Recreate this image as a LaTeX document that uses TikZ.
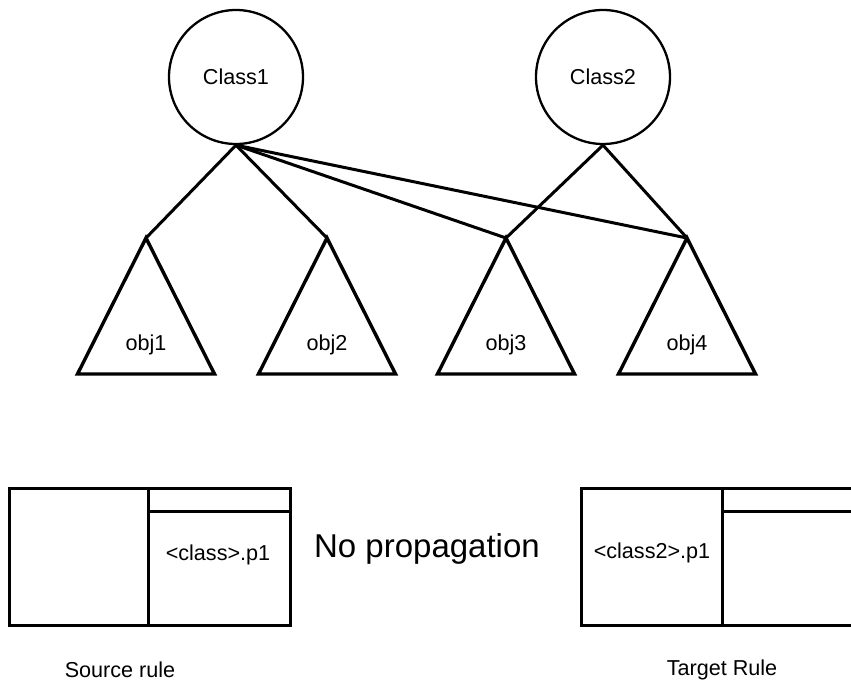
\documentclass[tikz,border=0pt]{standalone}
\usepackage{fontspec}
\setmainfont{Liberation Sans}
\usetikzlibrary{calc}

\begin{document}
\begin{tikzpicture}[
    x=0.5pt, y=-0.5pt,
    classnode/.style={draw, circle, line width=1.15pt, minimum size=67pt, inner sep=0pt, font=\fontsize{10.8}{13}\selectfont},
    objtri/.style={line width=1.7pt, line join=miter},
    link/.style={line width=1.5pt},
    rulebox/.style={line width=1.5pt},
    lbl/.style={font=\fontsize{10.8}{13}\selectfont, inner sep=0pt},
    bigtext/.style={font=\fontsize{16.5}{19}\selectfont, inner sep=0pt}
]
\useasboundingbox (0,0) rectangle (851,681);
\clip (0,0) rectangle (851,681);

% Classes
\node[classnode] (class1) at (236,77) {Class1};
\node[classnode] (class2) at (603,77) {Class2};

% Object triangles
\foreach \n/\x in {1/146, 2/327, 3/506, 4/687} {
    \coordinate (obj\n top) at (\x,238);
    \draw[objtri] (obj\n top) -- ++(68.5,136) -- ++(-137,0) -- cycle;
    \node[lbl] (obj\n) at ($(obj\n top)+(0,107)$) {obj\n};
}

% Instance links
\foreach \t in {1,2,3,4}
    \draw[link] (class1.south) -- (obj\t top);
\draw[link] (class2.south) -- (obj3top);
\draw[link] (class2.south) -- (obj4top);

% Source rule
\draw[rulebox] (9,488) rectangle (290,625);
\draw[rulebox] (148,488) -- (148,625);
\draw[rulebox] (148,511) -- (290,511);
\node[lbl] (srcprop) at (218,555) {<class>.p1};
\node[lbl] (srclabel) at (120,670) {Source rule};

% Target rule
\draw[rulebox] (581,488) rectangle (870,625);
\draw[rulebox] (722,488) -- (722,625);
\draw[rulebox] (722,511) -- (870,511);
\node[lbl] (tgtprop) at (652,553) {<class2>.p1};
\node[lbl] (tgtlabel) at (722,670) {Target Rule};

\node[bigtext] (noprop) at (427,549) {No propagation};

\end{tikzpicture}
\end{document}
